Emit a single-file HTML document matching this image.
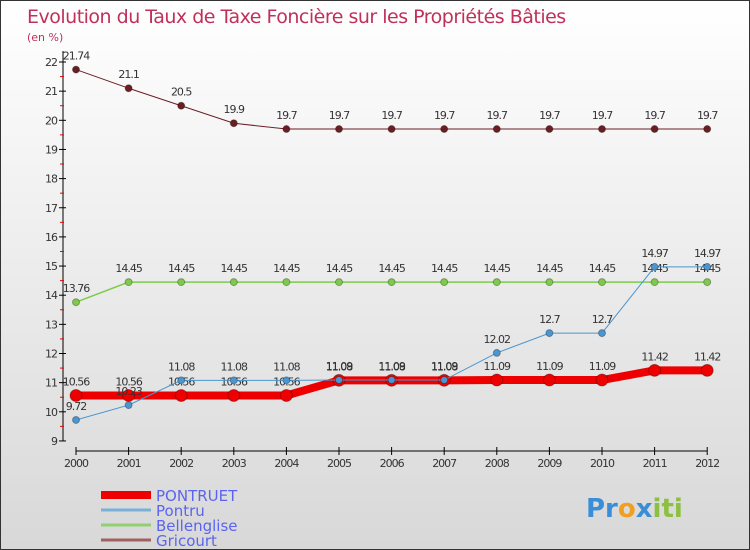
<!DOCTYPE html>
<html><head><meta charset="utf-8"><style>
body{margin:0}
#c{width:750px;height:550px;position:relative;background:linear-gradient(#fff,#d8d8d8);font-family:"DejaVu Sans","Liberation Sans",sans-serif;overflow:hidden;box-sizing:border-box;border:1px solid #333}
svg text{font-family:"DejaVu Sans","Liberation Sans",sans-serif}
</style></head><body>
<div id="c">
<svg id="s" width="750" height="550">
<text x="26" y="22" font-size="19" fill="#c0305a" letter-spacing="-0.5">Evolution du Taux de Taxe Foncière sur les Propriétés Bâties</text>
<text x="26" y="40" font-size="11" fill="#c0305a">(en %)</text>
<g id="g"></g>
<g><text x="585" y="516" font-size="26" font-weight="bold" fill="#3a8ed8">Pr<tspan fill="#f0a020">o</tspan><tspan fill="#3a8ed8">x</tspan><tspan fill="#8cc040">iti</tspan></text></g>
</svg>
</div>
<script>
const years=[2000,2001,2002,2003,2004,2005,2006,2007,2008,2009,2010,2011,2012];
const pontruet=[10.56,10.56,10.56,10.56,10.56,11.08,11.08,11.08,11.09,11.09,11.09,11.42,11.42];
const pontru=[9.72,10.23,11.08,11.08,11.08,11.09,11.09,11.09,12.02,12.7,12.7,14.97,14.97];
const bellenglise=[13.76,14.45,14.45,14.45,14.45,14.45,14.45,14.45,14.45,14.45,14.45,14.45,14.45];
const gricourt=[21.74,21.1,20.5,19.9,19.7,19.7,19.7,19.7,19.7,19.7,19.7,19.7,19.7];
const yTicks=[9,10,11,12,13,14,15,16,17,18,19,20,21,22];
const NS='http://www.w3.org/2000/svg';
const g=document.getElementById('g');
const X=i=>75+i*52.6, Y=v=>61+(22-v)*29.15;
function el(t,a,p){const e=document.createElementNS(NS,t);for(const k in a)e.setAttribute(k,a[k]);(p||g).appendChild(e);return e;}
let e=el('line',{x1:62,y1:50,x2:62,y2:440,stroke:'#000'});


e=el('line',{x1:75,y1:450,x2:706,y2:450,stroke:'#000'});


yTicks.forEach(v=>{el('line',{x1:58,x2:65,y1:Y(v),y2:Y(v),stroke:'#000'});
 if(v<22)el('line',{x1:59,x2:63,y1:Y(v+0.5),y2:Y(v+0.5),stroke:'#e00'});
 const t=el('text',{x:56,y:Y(v)+4,'font-size':11,fill:'#333','text-anchor':'end','letter-spacing':'-1'});t.textContent=v;
 
 });
years.forEach((yr,i)=>{el('line',{x1:X(i),x2:X(i),y1:446,y2:454,stroke:'#000'});
 const t=el('text',{x:X(i),y:466,'font-size':11,fill:'#333','text-anchor':'middle','letter-spacing':'-1'});t.textContent=yr;
 
 });
function series(d,col,w,r,name){
 const p=el('polyline',{points:d.map((v,i)=>X(i)+','+Y(v)).join(' '),fill:'none',stroke:col,'stroke-width':w});
 
 
 d.forEach((v,i)=>{const c=el('circle',{cx:X(i),cy:Y(v),r:r,fill:col,stroke:'rgba(0,0,0,0.3)'});
  
  
  const t=el('text',{x:X(i),y:Y(v)-10,'font-size':11,fill:'#333','text-anchor':'middle','letter-spacing':'-1'});t.textContent=v;
  
  });
}
series(gricourt,'#6b1e22',1,3.5,'gricourt');
series(bellenglise,'#7ecb4a',1.5,3.5,'bellenglise');
series(pontruet,'#ee0000',8,6,'pontruet');
series(pontru,'#4a96d0',1,3.5,'pontru');
const names=['PONTRUET','Pontru','Bellenglise','Gricourt'],cols=['#ee0000','#7ab0d8','#90d070','#a06060'],ws=[8,3,3,3];
names.forEach((n,i)=>{const y=494+i*15;
 const l=el('line',{x1:100,x2:150,y1:y,y2:y,stroke:cols[i],'stroke-width':ws[i]});
 
 
 const t=el('text',{x:155,y:y+6,'font-size':15,fill:'#5a64f0'});t.textContent=n;
 
 });
</script>
</body></html>
